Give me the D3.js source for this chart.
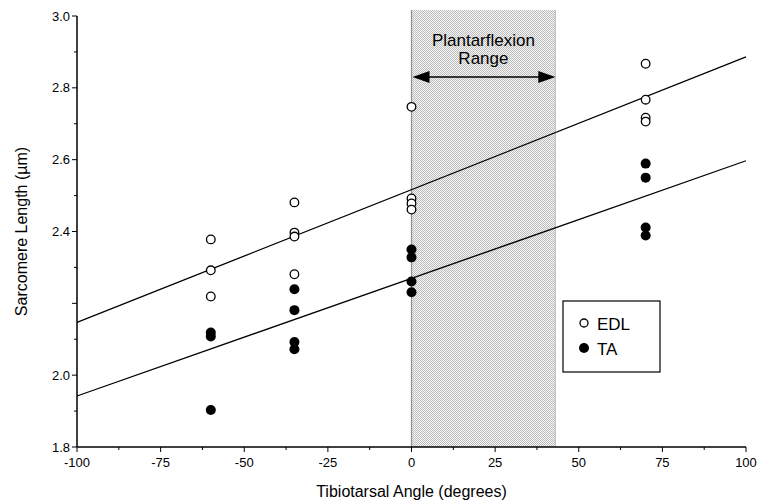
<!DOCTYPE html>
<html>
<head>
<meta charset="utf-8">
<script src="https://cdn.jsdelivr.net/npm/d3@7"></script>
<style>
  body { margin: 0; background: #fff; }
  text { font-family: "Liberation Sans", Arial, sans-serif; fill: #000; }
</style>
</head>
<body>
<svg id="chart" width="763" height="501"></svg>
<script>
"use strict";

// data
var angles = [-60, -35, 0, 70];
var edlValues = [
  [2.378, 2.292, 2.219],
  [2.481, 2.397, 2.386, 2.281],
  [2.747, 2.492, 2.478, 2.461],
  [2.867, 2.767, 2.717, 2.706]
];
var taValues = [
  [2.119, 2.108, 1.903],
  [2.239, 2.181, 2.092, 2.072],
  [2.350, 2.328, 2.261, 2.231],
  [2.589, 2.550, 2.411, 2.389]
];
// fitted lines: value at -100 and at 100
var edlFit = [[-100, 2.147], [100, 2.886]];
var taFit = [[-100, 1.942], [100, 2.597]];
var plantarRange = [0, 43];
var xTicks = [-100, -75, -50, -25, 0, 25, 50, 75, 100];
var yTicks = [1.8, 2.0, 2.4, 2.6, 2.8, 3.0];
var yMinor = d3.range(18, 31).map(function(d) { return d / 10 });
var xMinor = d3.range(-100, 101, 12.5);

var svg = d3.select("#chart");

var x = d3.scaleLinear().domain([-100, 100]).range([77, 746]);
var y = d3.scaleLinear().domain([1.8, 3.0]).range([447, 16]);

// dotted pattern for the plantarflexion range
var pat = svg.append("defs").append("pattern")
  .attr("id", "dots")
  .attr("width", 2)
  .attr("height", 2)
  .attr("patternUnits", "userSpaceOnUse");
pat.append("rect").attr("width", 2).attr("height", 2).attr("fill", "#f6f6f6");
pat.append("rect").attr("width", 1).attr("height", 1).attr("fill", "#bcbcbc");
pat.append("rect").attr("x", 1).attr("y", 1).attr("width", 1).attr("height", 1).attr("fill", "#bcbcbc");

svg.append("rect")
  .attr("x", x(plantarRange[0]))
  .attr("y", 10)
  .attr("width", x(plantarRange[1]) - x(plantarRange[0]))
  .attr("height", y(1.8) - 10)
  .attr("fill", "url(#dots)");
svg.append("line")
  .attr("x1", x(plantarRange[0])).attr("x2", x(plantarRange[0]))
  .attr("y1", 10).attr("y2", y(1.8))
  .attr("stroke", "#909090").attr("stroke-width", 1.2);
svg.append("line")
  .attr("x1", x(plantarRange[1])).attr("x2", x(plantarRange[1]))
  .attr("y1", 10).attr("y2", y(1.8))
  .attr("stroke", "#b8b8b8").attr("stroke-width", 1);

svg.append("text")
  .attr("x", (x(plantarRange[0]) + x(plantarRange[1])) / 2)
  .attr("y", 46)
  .attr("text-anchor", "middle")
  .style("font-size", "17px")
  .text("Plantarflexion");
svg.append("text")
  .attr("x", (x(plantarRange[0]) + x(plantarRange[1])) / 2)
  .attr("y", 64)
  .attr("text-anchor", "middle")
  .style("font-size", "17px")
  .text("Range");

// double arrow
var ay = 77, ax0 = x(plantarRange[0]) + 1, ax1 = x(plantarRange[1]);
svg.append("line")
  .attr("x1", ax0 + 10).attr("x2", ax1 - 10)
  .attr("y1", ay).attr("y2", ay)
  .attr("stroke", "#000").attr("stroke-width", 1.5);
svg.append("path")
  .attr("d", "M" + ax0 + "," + ay + "L" + (ax0 + 17) + "," + (ay - 6) + "L" + (ax0 + 17) + "," + (ay + 6) + "Z")
  .attr("fill", "#000");
svg.append("path")
  .attr("d", "M" + ax1 + "," + ay + "L" + (ax1 - 17) + "," + (ay - 6) + "L" + (ax1 - 17) + "," + (ay + 6) + "Z")
  .attr("fill", "#000");

// axes
var xAxis = svg.append("g").attr("transform", "translate(0," + y(1.8) + ")");
xAxis.append("line").attr("x1", x(-100)).attr("x2", x(100)).attr("stroke", "#000").attr("stroke-width", 1.5);
xAxis.selectAll(".minor").data(xMinor).enter().append("line")
  .attr("x1", function(d) { return x(d) }).attr("x2", function(d) { return x(d) })
  .attr("y1", 0).attr("y2", function(d) { return d % 25 === 0 ? 5 : 3 })
  .attr("stroke", "#000");
xAxis.selectAll("text").data(xTicks).enter().append("text")
  .attr("x", function(d) { return x(d) })
  .attr("y", 20)
  .attr("text-anchor", "middle")
  .style("font-size", "13px")
  .text(function(d) { return d });

var yAxis = svg.append("g").attr("transform", "translate(" + x(-100) + ",0)");
yAxis.append("line").attr("y1", y(1.8)).attr("y2", y(3.0)).attr("stroke", "#000").attr("stroke-width", 1.5);
yAxis.selectAll(".minor").data(yMinor).enter().append("line")
  .attr("y1", function(d) { return y(d) }).attr("y2", function(d) { return y(d) })
  .attr("x1", function(d) { return Math.round(d * 10) % 2 === 0 ? -5 : -3 }).attr("x2", 0)
  .attr("stroke", "#000");
yAxis.selectAll("text").data(yTicks).enter().append("text")
  .attr("x", -7)
  .attr("y", function(d) { return y(d) + 4.5 })
  .attr("text-anchor", "end")
  .style("font-size", "13px")
  .text(function(d) { return d.toFixed(1) });

svg.append("text")
  .attr("x", (x(-100) + x(100)) / 2)
  .attr("y", 497)
  .attr("text-anchor", "middle")
  .style("font-size", "16px")
  .text("Tibiotarsal Angle (degrees)");
svg.append("text")
  .attr("transform", "translate(27," + y(2.4) + ") rotate(-90)")
  .attr("text-anchor", "middle")
  .style("font-size", "16px")
  .text("Sarcomere Length (\u00b5m)");

// regression lines
var line = d3.line().x(function(d) { return x(d[0]) }).y(function(d) { return y(d[1]) });
[edlFit, taFit].forEach(function(f) {
  svg.append("path").attr("d", line(f)).attr("fill", "none").attr("stroke", "#000").attr("stroke-width", 1.3);
});

// points
function flatten(values) {
  var out = [];
  values.forEach(function(vals, i) {
    vals.forEach(function(v) { out.push([angles[i], v]) });
  });
  return out;
}
svg.append("g").selectAll("circle").data(flatten(edlValues)).enter().append("circle")
  .attr("cx", function(d) { return x(d[0]) })
  .attr("cy", function(d) { return y(d[1]) })
  .attr("r", 4.3)
  .attr("fill", "#fff")
  .attr("stroke", "#000")
  .attr("stroke-width", 1.3);
svg.append("g").selectAll("circle").data(flatten(taValues)).enter().append("circle")
  .attr("cx", function(d) { return x(d[0]) })
  .attr("cy", function(d) { return y(d[1]) })
  .attr("r", 5)
  .attr("fill", "#000");

// legend
var lg = svg.append("g");
lg.append("rect").attr("x", 563).attr("y", 301).attr("width", 97).attr("height", 71)
  .attr("fill", "#fff").attr("stroke", "#000").attr("stroke-width", 1.2);
lg.append("circle").attr("cx", 584).attr("cy", 323).attr("r", 4).attr("fill", "#fff").attr("stroke", "#000").attr("stroke-width", 1.3);
lg.append("circle").attr("cx", 584).attr("cy", 348).attr("r", 5).attr("fill", "#000");
lg.append("text").attr("x", 597).attr("y", 329.5).style("font-size", "17px").text("EDL");
lg.append("text").attr("x", 597).attr("y", 354.5).style("font-size", "17px").text("TA");
</script>
</body>
</html>
